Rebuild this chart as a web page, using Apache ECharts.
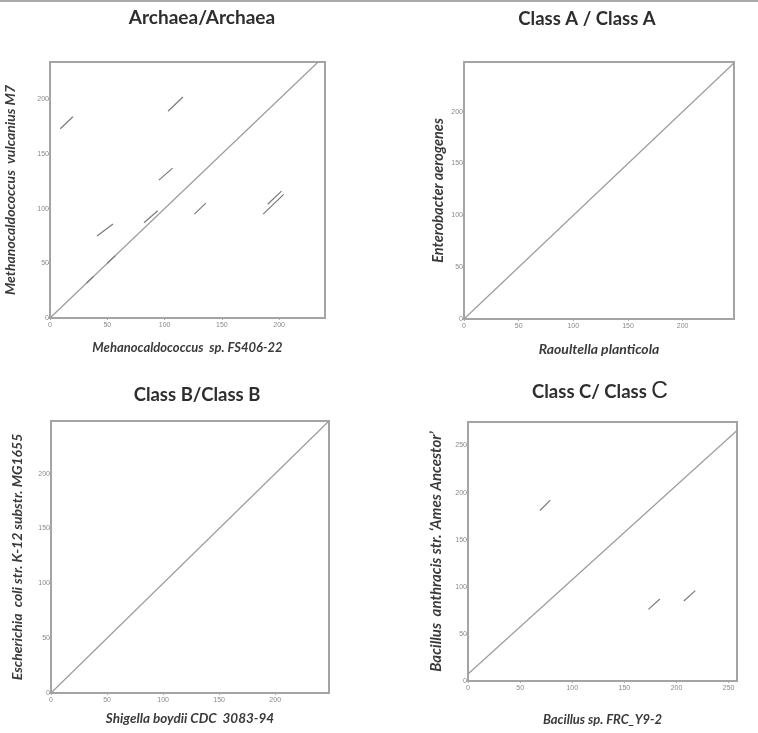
<!DOCTYPE html>
<html><head><meta charset="utf-8">
<script src="https://cdn.jsdelivr.net/npm/echarts@6/dist/echarts.min.js"></script>
<style>html,body{margin:0;padding:0;background:#fff}#c{width:758px;height:733px}</style>
</head><body><div id="c"></div>
<script>
// ---- data ----
const titles = ['Archaea/Archaea', 'Class A / Class A', 'Class B/Class B', 'Class C/ Class '];
const xNames = ['Mehanocaldococcus  sp. FS406-22', 'Raoultella planticola', 'Shigella boydii CDC  3083-94', 'Bacillus sp. FRC_Y9-2'];
const yNames = ['Methanocaldococcus  vulcanius M7', 'Enterobacter aerogenes', 'Escherichia  coli str. K-12 substr. MG1655', "Bacillus  anthracis str. \u2018Ames Ancestor\u2019"];
const xMax = [240, 247, 248, 258];
const yMax = [234, 248, 248, 275];
const ticks1 = [0, 50, 100, 150, 200];
const ticks2 = [0, 50, 100, 150, 200, 250];
// main diagonals [[x0,y0],[x1,y1]]
const diag1 = [[0, 0], [234, 234]];
const diag2 = [[0, 0], [247, 247]];
const diag3 = [[0, 0], [248, 248]];
const diag4 = [[0, 7.5], [258, 266]];
// off-diagonal matching segments
const seg1 = [
  [[9, 173], [20, 184]],
  [[103, 189], [116, 202]],
  [[95, 126], [107, 137]],
  [[41, 75], [55, 86]],
  [[82, 87], [94, 98]],
  [[126, 95], [136, 105]],
  [[186, 95], [204, 113]],
  [[190, 104], [202, 116]],
  [[32, 32], [38, 38]],
  [[50, 50], [57, 57]]
];
const seg2 = [];
const seg3 = [];
const seg4 = [
  [[69, 181], [79, 192]],
  [[173, 76], [184, 87]],
  [[207, 85], [218, 96]]
];

// ---- layout ----
const grids = [
  {left: 50, top: 62, width: 275, height: 256},
  {left: 464, top: 62, width: 270, height: 257},
  {left: 51, top: 421, width: 278, height: 272},
  {left: 468, top: 422, width: 269, height: 259}
];
const titlePos = [[202, 18], [587, 19], [197, 395], [600, 392]];
const titleSize = [19, 18.5, 18.5, 18.5];
const diags = [diag1, diag2, diag3, diag4];
const segs = [seg1, seg2, seg3, seg4];
const tickSets = [ticks1, ticks1, ticks1, ticks2];
const yTickSets = [ticks1, ticks1, ticks1, ticks2];
const xGap = [23, 23, 19, 32];
const yGap = [33, 18, 27, 24];
const xNameSize = [13, 14, 13.5, 13];
const yNameSize = [14, 14.5, 14, 15];

const nameStyle = (s) => ({fontFamily: 'Lato', fontStyle: 'italic', fontWeight: 'bold', fontSize: s, color: '#3a3a3a'});
const labelStyle = {fontFamily: 'Liberation Sans', fontSize: 7, color: '#8a8a8a'};

const option = {
  animation: false,
  backgroundColor: '#fff',
  grid: grids.map(g => Object.assign({show: true, borderColor: '#a4a4a4', borderWidth: 2, backgroundColor: '#fff'}, g)),
  xAxis: grids.map((g, i) => ({
    type: 'value', gridIndex: i, min: 0, max: xMax[i],
    name: xNames[i], nameLocation: 'middle', nameGap: xGap[i], nameTextStyle: nameStyle(xNameSize[i]),
    axisLine: {show: false}, splitLine: {show: false},
    axisTick: {show: true, customValues: tickSets[i], length: 2, lineStyle: {color: '#aaa'}},
    axisLabel: Object.assign({customValues: tickSets[i], margin: 4}, labelStyle)
  })),
  yAxis: grids.map((g, i) => ({
    type: 'value', gridIndex: i, min: 0, max: yMax[i],
    name: yNames[i], nameLocation: 'middle', nameGap: yGap[i], nameTextStyle: nameStyle(yNameSize[i]),
    axisLine: {show: false}, splitLine: {show: false},
    axisTick: {show: true, customValues: yTickSets[i], length: 2, lineStyle: {color: '#aaa'}},
    axisLabel: Object.assign({customValues: yTickSets[i], margin: 1}, labelStyle)
  })),
  series: [],
  graphic: [
    {type: 'line', shape: {x1: 0, y1: 1, x2: 758, y2: 1}, style: {stroke: '#8c8c8c', lineWidth: 1.5}}
  ]
};

grids.forEach((g, i) => {
  option.series.push({
    type: 'lines', coordinateSystem: 'cartesian2d', xAxisIndex: i, yAxisIndex: i,
    silent: true, z: 3,
    lineStyle: {color: '#9c9c9c', width: 1.2, opacity: 1},
    data: [{coords: diags[i]}]
  });
  option.series.push({
    type: 'lines', coordinateSystem: 'cartesian2d', xAxisIndex: i, yAxisIndex: i,
    silent: true, z: 4,
    lineStyle: {color: '#7a7a7a', width: 1.2, opacity: 1},
    data: segs[i].map(s => ({coords: s}))
  });
  const t = titlePos[i];
  if (i === 3) {
    option.graphic.push({
      type: 'text', x: t[0], y: t[1],
      style: {
        text: '{a|' + titles[i] + '}{b|C}', align: 'center', verticalAlign: 'middle',
        rich: {
          a: {fontFamily: 'Lato', fontWeight: 'bold', fontSize: titleSize[i], fill: '#2e2e2e'},
          b: {fontFamily: 'Liberation Sans', fontWeight: 'normal', fontSize: 23, fill: '#2e2e2e'}
        }
      }
    });
  } else {
    option.graphic.push({
      type: 'text', x: t[0], y: t[1],
      style: {text: titles[i], align: 'center', verticalAlign: 'middle',
        fontFamily: 'Lato', fontWeight: 'bold', fontSize: titleSize[i], fill: '#2e2e2e'}
    });
  }
});

const chart = echarts.init(document.getElementById('c'), null, {renderer: 'canvas'});
chart.setOption(option);
</script>
</body></html>
